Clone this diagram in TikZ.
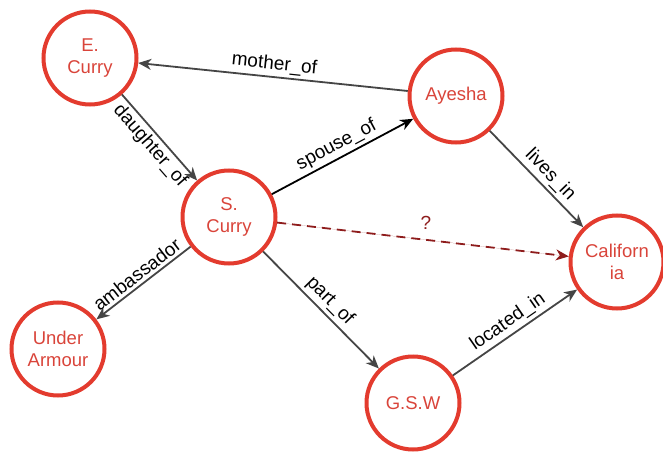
\documentclass[tikz,border=0pt]{standalone}
\usepackage{fontspec}
\setmainfont{Liberation Sans}
\usetikzlibrary{arrows.meta}
\definecolor{ringred}{HTML}{E33B2E}
\definecolor{txtred}{HTML}{D9443A}
\definecolor{edgegray}{HTML}{454545}
\definecolor{qred}{HTML}{8E1C1C}
\begin{document}
\begin{tikzpicture}[x=1pt,y=-1pt,
  ent/.style={circle,draw=ringred,line width=4pt,minimum size=93pt,inner sep=0pt,
    text=txtred,align=center,font=\fontsize{18.5}{22}\selectfont},
  rel/.style={draw=edgegray,line width=1.8pt,-{Stealth[length=13pt,width=11pt,inset=4pt]}},
  lbl/.style={font=\fontsize{19}{22}\selectfont,text=black,sloped,inner sep=3pt}]
\useasboundingbox (0,0) rectangle (663,454);
\node[ent] (ec) at (90,58) {E.\\Curry};
\node[ent] (ay) at (456,96) {Ayesha};
\node[ent] (sc) at (229,217) {S.\\Curry};
\node[ent] (ua) at (58,349) {Under\\Armour};
\node[ent] (ca) at (617,262) {Californ\\ia};
\node[ent] (gsw) at (413,403) {G.S.W};
\draw[rel] (ay) -- node[lbl,above,pos=0.5] {mother\_of} (ec);
\draw[rel] (ec) -- node[lbl,below] {daughter\_of} (sc);
\draw[rel,draw=black] (sc) -- node[lbl,above] {spouse\_of} (ay);
\draw[rel] (ay) -- node[lbl,above,pos=0.55] {lives\_in} (ca);
\draw[rel] (sc) -- node[lbl,above] {ambassador} (ua);
\draw[rel] (sc) -- node[lbl,above] {part\_of} (gsw);
\draw[rel] (gsw) -- node[lbl,above] {located\_in} (ca);
\draw[rel,draw=qred,fill=qred,dashed,dash pattern=on 9pt off 6pt] (sc) -- node[above=6pt,pos=0.51,font=\fontsize{19}{22}\selectfont,text=qred] {?} (ca);
\end{tikzpicture}
\end{document}
